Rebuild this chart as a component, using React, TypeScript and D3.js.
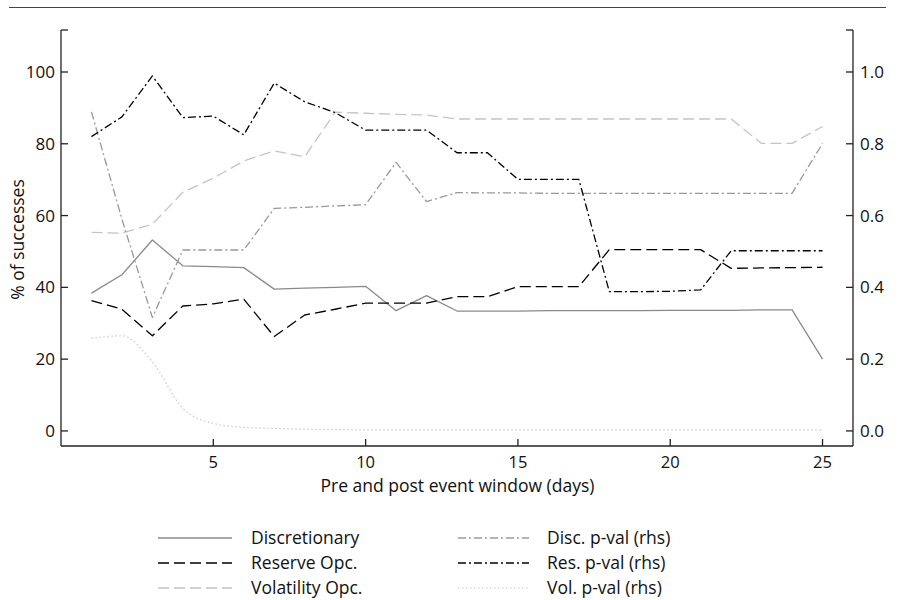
import React from "react";
import * as d3 from "d3";

const days = [1, 2, 3, 4, 5, 6, 7, 8, 9, 10, 11, 12, 13, 14, 15, 16, 17, 18, 19, 20, 21, 22, 23, 24, 25];
const discretionary = [38.4, 43.5, 53.2, 46.0, 45.8, 45.5, 39.5, 39.8, 40.0, 40.3, 33.5, 37.7, 33.4, 33.4, 33.4, 33.5, 33.5, 33.5, 33.5, 33.6, 33.6, 33.6, 33.7, 33.7, 20.0];
const reserveOpc = [36.3, 33.9, 26.5, 34.8, 35.4, 36.7, 26.3, 32.3, 33.9, 35.6, 35.6, 35.6, 37.4, 37.4, 40.2, 40.2, 40.2, 50.5, 50.5, 50.5, 50.5, 45.3, 45.4, 45.5, 45.6];
const volatilityOpc = [55.3, 55.1, 57.6, 66.5, 70.4, 75.2, 78.0, 76.4, 88.8, 88.5, 88.2, 88.0, 86.9, 86.9, 86.9, 86.9, 86.9, 86.9, 86.9, 86.9, 86.9, 86.9, 80.1, 80.1, 84.8];
const discPval = [0.889, 0.59, 0.316, 0.504, 0.504, 0.504, 0.62, 0.623, 0.627, 0.63, 0.748, 0.639, 0.664, 0.663, 0.663, 0.662, 0.662, 0.662, 0.662, 0.662, 0.662, 0.662, 0.662, 0.662, 0.801];
const resPval = [0.82, 0.875, 0.989, 0.873, 0.877, 0.825, 0.969, 0.917, 0.887, 0.838, 0.838, 0.838, 0.775, 0.775, 0.701, 0.701, 0.701, 0.388, 0.388, 0.389, 0.393, 0.502, 0.502, 0.502, 0.502];
const volPval = [0.258, 0.265, 0.192, 0.063, 0.021, 0.01, 0.007, 0.005, 0.004, 0.003, 0.003, 0.003, 0.003, 0.003, 0.003, 0.003, 0.003, 0.003, 0.003, 0.003, 0.003, 0.003, 0.003, 0.003, 0.003];

const xTicks = [5, 10, 15, 20, 25];
const leftTicks = [0, 20, 40, 60, 80, 100];
const rightTicks = [0, 0.2, 0.4, 0.6, 0.8, 1.0];

const seriesNames = ["Discretionary", "Reserve Opc.", "Volatility Opc.", "Disc. p-val (rhs)", "Res. p-val (rhs)", "Vol. p-val (rhs)"];

const W = 898, H = 600;
const L = 61, R = 853, T = 30, B = 446;
const FONT = "'Open Sans', 'Noto Sans', sans-serif";

export default function App() {
  const x = d3.scaleLinear().domain([0, 26]).range([L, R]);
  const yL = d3.scaleLinear().domain([-4.2, 111.7]).range([B, T]);
  const yR = d3.scaleLinear().domain([-0.042, 1.117]).range([B, T]);

  const lineL = d3.line<number>().x((_, i) => x(days[i])).y((d) => yL(d));
  const lineR = d3.line<number>().x((_, i) => x(days[i])).y((d) => yR(d));
  const lineRSmooth = d3.line<number>().x((_, i) => x(days[i])).y((d) => yR(d)).curve(d3.curveMonotoneX);

  const styles = [
    { stroke: "#8a8a8a", dash: "none", w: 1.3 },
    { stroke: "#000000", dash: "11,5", w: 1.3 },
    { stroke: "#c4c4c4", dash: "11,5", w: 1.3 },
    { stroke: "#999999", dash: "8,3,2,3", w: 1.3 },
    { stroke: "#000000", dash: "8,3,2,3", w: 1.3 },
    { stroke: "#c8c8c8", dash: "1.5,2.5", w: 1.2 },
  ];

  const paths = [
    lineL(discretionary),
    lineL(reserveOpc),
    lineL(volatilityOpc),
    lineR(discPval),
    lineR(resPval),
    lineRSmooth(volPval),
  ];

  const legendRows = [538, 563, 588];

  return (
    <svg width={W} height={H} style={{ position: "absolute", left: 0, top: 0, background: "#fff" }} fontFamily={FONT}>
      <rect x={0} y={0} width={W} height={H} fill="#fff" />
      <line x1={9} x2={886} y1={7.5} y2={7.5} stroke="#444" strokeWidth={1.2} />

      {paths.map((p, i) => (
        <path key={i} d={p || ""} fill="none" stroke={styles[i].stroke} strokeWidth={styles[i].w}
          strokeDasharray={styles[i].dash} strokeLinejoin="round" />
      ))}

      {/* axes */}
      <line x1={L} x2={L} y1={T} y2={B} stroke="#222" strokeWidth={1.3} />
      <line x1={R} x2={R} y1={T} y2={B} stroke="#222" strokeWidth={1.3} />
      <line x1={L} x2={R} y1={B} y2={B} stroke="#222" strokeWidth={1.3} />
      <line x1={L} x2={L + 7} y1={T} y2={T} stroke="#222" strokeWidth={1.3} />
      <line x1={R - 7} x2={R} y1={T} y2={T} stroke="#222" strokeWidth={1.3} />

      {leftTicks.map((t) => (
        <g key={"l" + t}>
          <line x1={L} x2={L + 7} y1={yL(t)} y2={yL(t)} stroke="#222" strokeWidth={1.3} />
          <text x={55} y={yL(t) + 6} textAnchor="end" fontSize={17} fill="#111">{t}</text>
        </g>
      ))}
      {rightTicks.map((t) => (
        <g key={"r" + t}>
          <line x1={R - 7} x2={R} y1={yR(t)} y2={yR(t)} stroke="#222" strokeWidth={1.3} />
          <text x={860} y={yR(t) + 6} textAnchor="start" fontSize={17} fill="#111">{t.toFixed(1)}</text>
        </g>
      ))}
      {xTicks.map((t) => (
        <g key={"x" + t}>
          <line x1={x(t)} x2={x(t)} y1={B} y2={B - 7} stroke="#222" strokeWidth={1.3} />
          <text x={x(t)} y={468} textAnchor="middle" fontSize={16.5} fill="#111">{t}</text>
        </g>
      ))}

      <text x={457.5} y={492} textAnchor="middle" fontSize={17.5} fill="#111">Pre and post event window (days)</text>
      <text transform="translate(24,239.5) rotate(-90)" textAnchor="middle" fontSize={17.5} fill="#111">% of successes</text>

      {/* legend */}
      {seriesNames.map((name, i) => {
        const col = i < 3 ? 0 : 1;
        const row = i % 3;
        const yy = legendRows[row];
        const x1 = col === 0 ? 158 : 458;
        const x2 = col === 0 ? 232 : 529;
        const tx = col === 0 ? 251 : 547;
        return (
          <g key={name}>
            <line x1={x1} x2={x2} y1={yy} y2={yy} stroke={styles[i].stroke} strokeWidth={styles[i].w}
              strokeDasharray={styles[i].dash} />
            <text x={tx} y={yy + 6} fontSize={17.5} fill="#111">{name}</text>
          </g>
        );
      })}
    </svg>
  );
}
